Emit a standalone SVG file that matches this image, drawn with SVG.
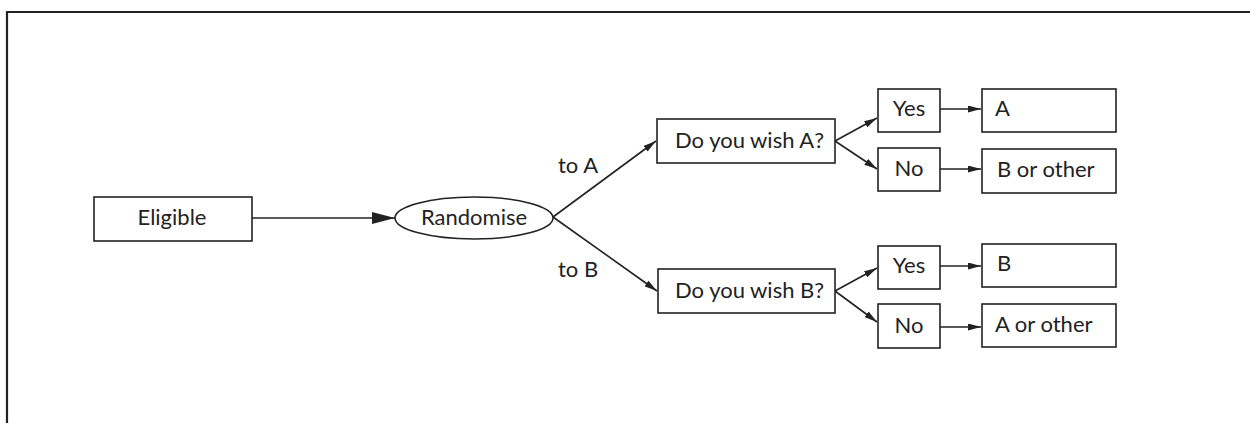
<svg xmlns="http://www.w3.org/2000/svg" width="1250" height="423" viewBox="0 0 1250 423">
  <style>
    .box { fill: #ffffff; stroke: #222222; stroke-width: 1.6; }
    .lbl { font-family: "Lato", "Liberation Sans", sans-serif; font-size: 22px; fill: #222222; }
    .mid { text-anchor: middle; }
    .edge { fill: none; stroke: #222222; stroke-width: 1.6; }
    .frame { fill: none; stroke: #222222; stroke-width: 2.2; }
  </style>
  <defs>
    <marker id="bigHead" markerUnits="userSpaceOnUse" viewBox="0 0 23 12" refX="23" refY="6" markerWidth="23" markerHeight="12" orient="auto">
      <path d="M0,0 L23,6 L0,12 z" fill="#222222"/>
    </marker>
    <marker id="smallHead" markerUnits="userSpaceOnUse" viewBox="0 0 13 7" refX="13" refY="3.5" markerWidth="13" markerHeight="7" orient="auto">
      <path d="M0,0 L13,3.5 L0,7 z" fill="#222222"/>
    </marker>
  </defs>

  <!-- outer frame (open to the right and bottom) -->
  <path class="frame" d="M7,423 V12 H1250"/>

  <!-- connectors -->
  <g id="connectors">
    <line class="edge" x1="252" y1="218" x2="395" y2="218" marker-end="url(#bigHead)"/>
    <line class="edge" x1="553" y1="217" x2="656" y2="141" marker-end="url(#smallHead)"/>
    <line class="edge" x1="553" y1="217" x2="657" y2="291" marker-end="url(#smallHead)"/>
    <line class="edge" x1="835" y1="141" x2="877" y2="118" marker-end="url(#smallHead)"/>
    <line class="edge" x1="835" y1="141" x2="877" y2="169" marker-end="url(#smallHead)"/>
    <line class="edge" x1="835" y1="291" x2="877" y2="268" marker-end="url(#smallHead)"/>
    <line class="edge" x1="835" y1="291" x2="877" y2="322" marker-end="url(#smallHead)"/>
    <line class="edge" x1="940" y1="109" x2="981" y2="109" marker-end="url(#smallHead)"/>
    <line class="edge" x1="940" y1="169" x2="981" y2="169" marker-end="url(#smallHead)"/>
    <line class="edge" x1="940" y1="266" x2="981" y2="266" marker-end="url(#smallHead)"/>
    <line class="edge" x1="940" y1="327" x2="981" y2="327" marker-end="url(#smallHead)"/>
    <text class="lbl" x="558" y="173">to A</text>
    <text class="lbl" x="558" y="277">to B</text>
  </g>

  <g id="eligible">
    <rect class="box" x="94" y="197" width="158" height="44"/>
    <text class="lbl mid" x="172" y="225">Eligible</text>
  </g>

  <g id="randomise">
    <ellipse class="box" cx="474" cy="218" rx="79" ry="21"/>
    <text class="lbl mid" x="474" y="225">Randomise</text>
  </g>

  <g id="wishA">
    <rect class="box" x="657" y="119" width="178" height="44"/>
    <text class="lbl" x="675" y="148">Do you wish A?</text>
  </g>

  <g id="wishB">
    <rect class="box" x="658" y="269" width="177" height="44"/>
    <text class="lbl" x="675" y="298">Do you wish B?</text>
  </g>

  <g id="yesA">
    <rect class="box" x="878" y="89" width="62" height="43"/>
    <text class="lbl mid" x="909" y="116">Yes</text>
  </g>

  <g id="noA">
    <rect class="box" x="878" y="148" width="62" height="43"/>
    <text class="lbl mid" x="909" y="176">No</text>
  </g>

  <g id="yesB">
    <rect class="box" x="878" y="246" width="62" height="43"/>
    <text class="lbl mid" x="909" y="273">Yes</text>
  </g>

  <g id="noB">
    <rect class="box" x="878" y="304" width="62" height="44"/>
    <text class="lbl mid" x="909" y="333">No</text>
  </g>

  <g id="resultA">
    <rect class="box" x="982" y="89" width="134" height="43"/>
    <text class="lbl" x="995" y="116">A</text>
  </g>

  <g id="resultBOther">
    <rect class="box" x="982" y="149" width="134" height="44"/>
    <text class="lbl" x="997" y="177">B or other</text>
  </g>

  <g id="resultB">
    <rect class="box" x="982" y="244" width="134" height="43"/>
    <text class="lbl" x="997" y="271">B</text>
  </g>

  <g id="resultAOther">
    <rect class="box" x="982" y="304" width="134" height="43"/>
    <text class="lbl" x="995" y="332">A or other</text>
  </g>
</svg>
